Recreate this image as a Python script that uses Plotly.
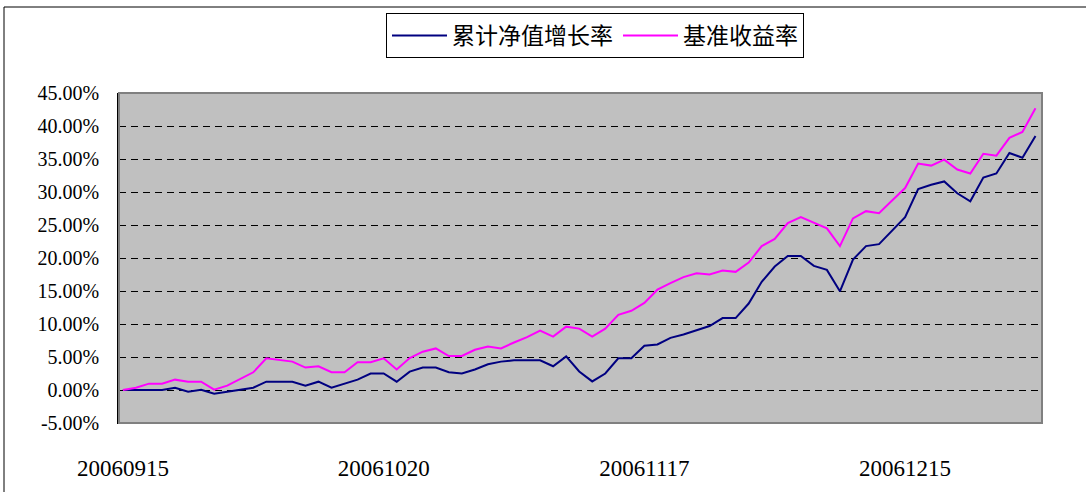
import plotly.graph_objects as go

# ---- data (values in percent) ----
idx = list(range(71))
nav_growth = [0, 0, 0, 0, 0.35, -0.25, 0.05, -0.55, -0.25, 0.05,
              0.35, 1.26, 1.26, 1.26, 0.66, 1.26, 0.35, 0.96, 1.57, 2.5,
              2.5, 1.26, 2.78, 3.4, 3.4, 2.7, 2.5, 3.1, 3.9, 4.3,
              4.5, 4.5, 4.5, 3.6, 5.1, 2.8, 1.3, 2.5, 4.8, 4.8,
              6.7, 6.9, 7.9, 8.4, 9.0, 9.7, 10.9, 10.9, 13.1, 16.4,
              18.7, 20.3, 20.3, 18.8, 18.2, 14.95, 19.75, 21.8, 22.1, 24.2,
              26.2, 30.45, 31.1, 31.6, 29.8, 28.6, 32.2, 32.8, 35.9, 35.2,
              38.5]
benchmark = [0, 0.35, 0.96, 0.96, 1.57, 1.26, 1.26, 0.05, 0.66, 1.72,
             2.68, 4.8, 4.5, 4.3, 3.4, 3.6, 2.7, 2.7, 4.2, 4.2,
             4.8, 3.1, 4.85, 5.8, 6.3, 5.15, 5.15, 6.1, 6.6, 6.3,
             7.2, 8.0, 9.0, 8.1, 9.6, 9.3, 8.1, 9.3, 11.4, 12.0,
             13.2, 15.2, 16.2, 17.1, 17.7, 17.5, 18.1, 17.9, 19.3, 21.8,
             22.9, 25.3, 26.2, 25.4, 24.5, 21.8, 26.0, 27.1, 26.8, 28.7,
             30.6, 34.3, 34.0, 34.9, 33.4, 32.8, 35.8, 35.5, 38.2, 39.1,
             42.7]
x_tick_pos = [0, 20, 40, 60]
x_tick_labels = ["20060915", "20061020", "20061117", "20061215"]
y_tick_vals = [-5, 0, 5, 10, 15, 20, 25, 30, 35, 40, 45]
y_tick_labels = ["-5.00%", "0.00%", "5.00%", "10.00%", "15.00%", "20.00%",
                 "25.00%", "30.00%", "35.00%", "40.00%", "45.00%"]
series_names = ["累计净值增长率", "基准收益率"]

W, H = 1086, 492
L, R, T, B = 119, 1042, 93, 423

fig = go.Figure()
fig.add_trace(go.Scatter(x=idx, y=nav_growth, mode="lines", name=series_names[0],
                         line=dict(color="#000080", width=2)))
fig.add_trace(go.Scatter(x=idx, y=benchmark, mode="lines", name=series_names[1],
                         line=dict(color="#FF00FF", width=2)))

def px_x(p):
    return (p - L) / (R - L)

def px_y(p):
    return (B - p) / (B - T)

shapes = [
    # outer chart border
    dict(type="rect", xref="paper", yref="paper",
         x0=px_x(4), x1=px_x(1100), y0=px_y(510), y1=px_y(7),
         line=dict(color="black", width=1), layer="below"),
    # plot area border
    dict(type="rect", xref="paper", yref="paper",
         x0=0, x1=1, y0=0, y1=1,
         line=dict(color="#808080", width=2), layer="above"),
]

fig.update_layout(
    width=W, height=H,
    margin=dict(l=L, r=W - R, t=T, b=H - B, autoexpand=False),
    paper_bgcolor="white",
    plot_bgcolor="#C0C0C0",
    shapes=shapes,
    showlegend=True,
    legend=dict(orientation="h", x=px_x(595), y=px_y(13), xanchor="center", yanchor="top",
                bgcolor="white", bordercolor="black", borderwidth=1,
                font=dict(family="Noto Sans CJK SC", size=23, color="black"),
                itemwidth=55, tracegroupgap=0),
    xaxis=dict(range=[-0.3, 70.5], tickvals=x_tick_pos, ticktext=x_tick_labels,
               showgrid=False, zeroline=False, showline=True, linecolor="black", linewidth=1,
               ticks="", ticklabelstandoff=24, automargin=False,
               tickfont=dict(family="Liberation Serif", size=23, color="black")),
    yaxis=dict(range=[-5, 45], tickvals=y_tick_vals, ticktext=y_tick_labels,
               showgrid=True, gridcolor="black", gridwidth=1, griddash="7px,5px",
               zeroline=False, showline=True, linecolor="black", linewidth=1.5,
               ticks="", ticklabelstandoff=14, automargin=False,
               tickfont=dict(family="Liberation Serif", size=20, color="black")),
)

fig.write_html("out.html", config={"displayModeBar": False},
               post_script="document.body.style.margin='0px';document.body.style.overflow='hidden';")
